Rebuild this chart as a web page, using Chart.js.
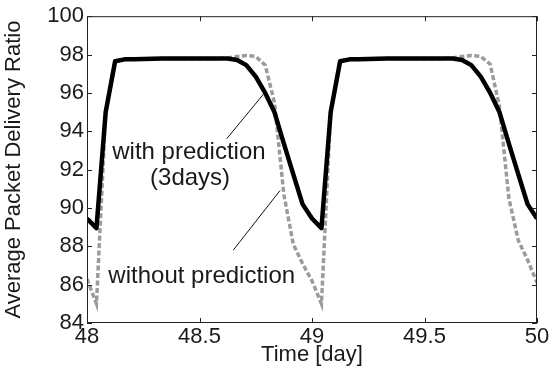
<!DOCTYPE html>
<html>
<head>
<meta charset="utf-8">
<script src="https://cdn.jsdelivr.net/npm/chart.js@4.4.1/dist/chart.umd.min.js"></script>
<style>
    html, body { margin: 0; padding: 0; background: #fff; }
    #wrap { width: 552px; height: 372px; }
</style>
</head>
<body>
<div id="wrap"><canvas id="pdr-chart" width="552" height="372"></canvas></div>
<script>
// time in days, one sample per hour
const timeDays = [
    48.000, 48.042, 48.083, 48.125, 48.167, 48.208, 48.250, 48.292, 48.333, 48.375,
    48.417, 48.458, 48.500, 48.542, 48.583, 48.625, 48.667, 48.708, 48.750, 48.792,
    48.833, 48.875, 48.917, 48.958, 49.000, 49.042, 49.083, 49.125, 49.167, 49.208,
    49.250, 49.292, 49.333, 49.375, 49.417, 49.458, 49.500, 49.542, 49.583, 49.625,
    49.667, 49.708, 49.750, 49.792, 49.833, 49.875, 49.917, 49.958, 50.000
];

const withPrediction = [
    89.45, 88.95, 95.00, 97.65, 97.75, 97.76, 97.77, 97.78, 97.79, 97.80,
    97.80, 97.80, 97.80, 97.80, 97.80, 97.79, 97.72, 97.45, 96.85, 96.00,
    95.00, 93.35, 91.75, 90.20, 89.45, 88.95, 95.00, 97.65, 97.75, 97.76,
    97.77, 97.78, 97.79, 97.80, 97.80, 97.80, 97.80, 97.80, 97.80, 97.79,
    97.72, 97.45, 96.85, 96.00, 95.00, 93.35, 91.75, 90.20, 89.45
];

const withoutPrediction = [
    86.30, 85.00, 95.00, 97.65, 97.75, 97.76, 97.77, 97.78, 97.79, 97.80,
    97.80, 97.80, 97.80, 97.80, 97.80, 97.82, 97.90, 97.95, 97.90, 97.45,
    95.50, 90.70, 88.10, 87.10, 86.20, 85.00, 95.00, 97.65, 97.75, 97.76,
    97.77, 97.78, 97.79, 97.80, 97.80, 97.80, 97.80, 97.80, 97.80, 97.82,
    97.90, 97.95, 97.90, 97.50, 95.30, 90.50, 88.30, 87.30, 86.10
];

const xTicks = [48, 48.5, 49, 49.5, 50];
const yTicks = [84, 86, 88, 90, 92, 94, 96, 98, 100];

const FONT = "'Liberation Sans', Arial, sans-serif";
const INK = '#1a1a1a';

// labels and leader lines, in data coordinates
const notes = [
    { text: 'with prediction', x: 48.453, y: 92.57 },
    { text: '(3days)', x: 48.458, y: 91.21 },
    { text: 'without prediction', x: 48.51, y: 86.08 }
];
const leaders = [
    { x1: 48.621, y1: 93.61, x2: 48.784, y2: 95.93 },
    { x1: 48.650, y1: 87.80, x2: 48.858, y2: 90.91 }
];

function toPoints(values) {
    return values.map((v, i) => ({ x: timeDays[i], y: v }));
}

const framePlugin = {
    id: 'frame',
    afterDatasetsDraw(chart) {
        const { ctx, chartArea: a, scales } = chart;
        ctx.save();

        // annotations
        ctx.fillStyle = INK;
        ctx.font = '24px ' + FONT;
        ctx.textAlign = 'center';
        ctx.textBaseline = 'alphabetic';
        notes.forEach(n => {
            ctx.fillText(n.text, scales.x.getPixelForValue(n.x), scales.y.getPixelForValue(n.y));
        });
        ctx.strokeStyle = '#111';
        ctx.lineWidth = 1;
        leaders.forEach(l => {
            ctx.beginPath();
            ctx.moveTo(scales.x.getPixelForValue(l.x1), scales.y.getPixelForValue(l.y1));
            ctx.lineTo(scales.x.getPixelForValue(l.x2), scales.y.getPixelForValue(l.y2));
            ctx.stroke();
        });

        // box with inward ticks on all sides
        ctx.strokeStyle = '#222';
        ctx.lineWidth = 1;
        ctx.strokeRect(a.left + 0.5, a.top + 0.5, a.right - a.left - 1, a.bottom - a.top - 1);
        const len = 5;
        ctx.beginPath();
        xTicks.forEach(t => {
            const px = Math.round(scales.x.getPixelForValue(t)) + 0.5;
            ctx.moveTo(px, a.bottom);
            ctx.lineTo(px, a.bottom - len);
            ctx.moveTo(px, a.top);
            ctx.lineTo(px, a.top + len);
        });
        yTicks.forEach(t => {
            const py = Math.round(scales.y.getPixelForValue(t)) + 0.5;
            ctx.moveTo(a.left, py);
            ctx.lineTo(a.left + len, py);
            ctx.moveTo(a.right, py);
            ctx.lineTo(a.right - len, py);
        });
        ctx.stroke();
        ctx.restore();
    }
};

document.addEventListener('DOMContentLoaded', function() {
    const ctx = document.getElementById('pdr-chart').getContext('2d');

    new Chart(ctx, {
        type: 'line',
        data: {
            datasets: [{
                label: 'with prediction (3days)',
                data: toPoints(withPrediction),
                borderColor: '#000',
                borderWidth: 4.5,
                borderJoinStyle: 'round',
                pointRadius: 0,
                tension: 0,
                order: 0
            }, {
                label: 'without prediction',
                data: toPoints(withoutPrediction),
                borderColor: '#9b9b9f',
                borderWidth: 3.5,
                borderDash: [5, 2.5],
                pointRadius: 0,
                tension: 0,
                order: 1
            }]
        },
        options: {
            responsive: false,
            animation: false,
            devicePixelRatio: 1,
            layout: { padding: { top: 15, right: 15, left: 0, bottom: 0 } },
            plugins: {
                legend: { display: false },
                tooltip: { enabled: false }
            },
            scales: {
                x: {
                    type: 'linear',
                    min: 48,
                    max: 50,
                    afterBuildTicks: scale => { scale.ticks = xTicks.map(v => ({ value: v })); },
                    afterFit: scale => { scale.height = 49; },
                    grid: { display: false, drawTicks: false },
                    border: { display: false },
                    ticks: {
                        color: INK,
                        padding: 1,
                        maxRotation: 0,
                        font: { family: FONT, size: 22 },
                        callback: v => String(v)
                    },
                    title: {
                        display: true,
                        text: 'Time [day]',
                        color: INK,
                        font: { family: FONT, size: 22 },
                        padding: { top: 0, bottom: 4 }
                    }
                },
                y: {
                    min: 84,
                    max: 100,
                    afterBuildTicks: scale => { scale.ticks = yTicks.map(v => ({ value: v })); },
                    afterFit: scale => { scale.width = 87; },
                    grid: { display: false, drawTicks: false },
                    border: { display: false },
                    ticks: {
                        color: INK,
                        padding: 3,
                        font: { family: FONT, size: 22 },
                        callback: v => String(v)
                    },
                    title: {
                        display: true,
                        text: 'Average Packet Delivery Ratio',
                        color: INK,
                        font: { family: FONT, size: 22 },
                        padding: { top: 1, bottom: 0 }
                    }
                }
            }
        },
        plugins: [framePlugin]
    });
});
</script>
</body>
</html>
